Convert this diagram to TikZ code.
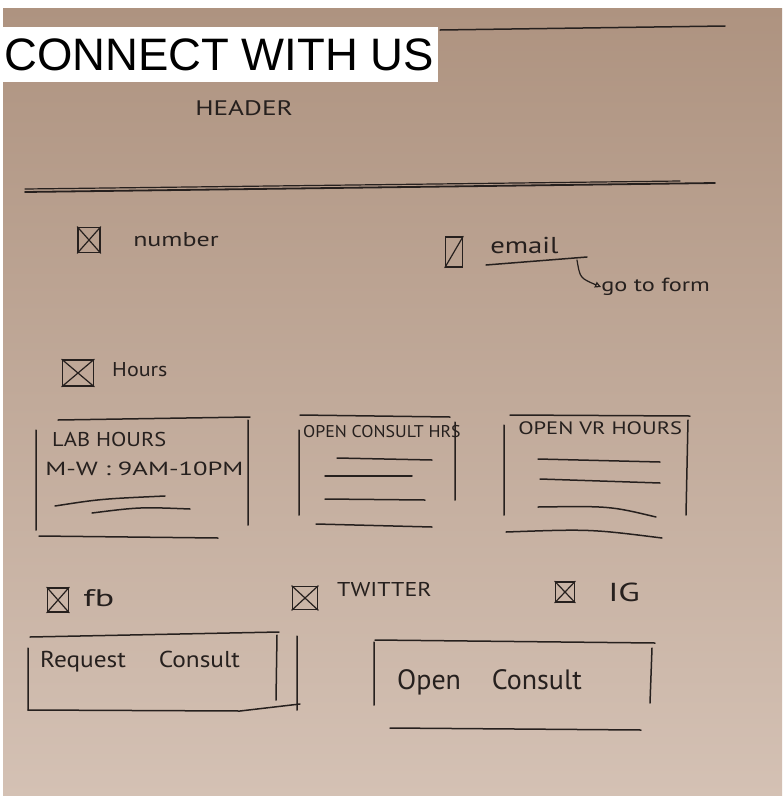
\documentclass[tikz,border=0pt]{standalone}
\usepackage{fontspec}
\setmainfont{Liberation Sans}
\newfontfamily\hand{PT Sans}
\usetikzlibrary{arrows.meta}
\definecolor{pen}{RGB}{38,32,30}
\definecolor{paperA}{RGB}{174,147,128}
\definecolor{paperB}{RGB}{212,193,180}
\begin{document}
\begin{tikzpicture}[x=1pt,y=-1pt,
  pencil/.style={draw=pen, line width=1.5pt, line cap=round},
  thin pencil/.style={draw=pen, line width=1.2pt, line cap=round},
  hw/.style={text=pen, inner sep=0pt, anchor=west, font=\hand\fontsize{#1}{#1}\selectfont},
  hw/.default=18,
  cbox/.style={draw=pen, line width=1.3pt, inner sep=0pt}
]
\useasboundingbox (0,0) rectangle (784,796);
\fill[white] (0,0) rectangle (784,796);
\shade[top color=paperA, bottom color=paperB] (3,8) rectangle (782,796);

% title
\node[fill=white, inner sep=0pt, anchor=north west, minimum width=438pt, minimum height=55pt] (titlebox) at (0,27) {};
\node[anchor=west, inner sep=0pt, font=\fontsize{45.5}{45.5}\selectfont] (title) at (4,55) {CONNECT WITH US};

% header area
\coordinate (tl1) at (440,30); \coordinate (tl2) at (725,26);
\draw[pencil] (tl1) -- (tl2);
\node[hw=21, xscale=1.3] (header) at (195,108) {HEADER};
\coordinate (hl1) at (25,192); \coordinate (hl2) at (715,183);
\draw[pencil, line width=1.8pt] (hl1) -- (hl2);
\draw[thin pencil] (25,189) -- (680,181);

% number
\node[cbox, minimum width=22pt, minimum height=25pt] (cbnum) at (89,240) {};
\draw[thin pencil] (cbnum.north west) -- (cbnum.south east) (cbnum.north east) -- (cbnum.south west);
\node[hw=20, xscale=1.3] (number) at (133,240) {number};

% email
\node[cbox, minimum width=17pt, minimum height=30pt] (cbmail) at (454,252) {};
\draw[thin pencil] (cbmail.south west) -- (cbmail.north east);
\node[hw=23, xscale=1.25] (email) at (490,245) {email};
\coordinate (ul1) at (486,265); \coordinate (ul2) at (587,257);
\draw[pencil] (ul1) -- (ul2);
\coordinate (emailend) at (577,260);
\node[hw=19, xscale=1.28] (goto) at (601,287) {go to form};
\draw[thin pencil, -{Triangle[open, length=6pt, width=6pt]}] (emailend) .. controls (580,278) .. (goto.west);

% hours
\node[cbox, minimum width=31pt, minimum height=26pt] (cbhours) at (78,373) {};
\draw[thin pencil] (cbhours.north west) -- (cbhours.south east) (cbhours.north east) -- (cbhours.south west);
\node[hw=20, xscale=1.1] (hours) at (112,370) {Hours};

% box 1: lab hours
\coordinate (b1a) at (36,430); \coordinate (b1b) at (36,530);
\coordinate (b1c) at (58,420); \coordinate (b1d) at (250,417);
\coordinate (b1e) at (248,420); \coordinate (b1f) at (248,525);
\coordinate (b1g) at (39,536); \coordinate (b1h) at (218,538);
\draw[pencil] (b1a) -- (b1b) (b1c) -- (b1d) (b1e) -- (b1f) (b1g) -- (b1h);
\node[hw=20, xscale=1.12] (lab) at (52,439) {LAB HOURS};
\node[hw=19, xscale=1.4] (mw) at (45,469) {M-W : 9AM-10PM};
\draw[pencil] (55,506) .. controls (100,499) .. (165,496);
\draw[pencil] (92,513) .. controls (140,507) .. (190,509);

% box 2: open consult hrs
\coordinate (b2a) at (299,430); \coordinate (b2b) at (299,515);
\coordinate (b2c) at (300,415); \coordinate (b2d) at (450,417);
\coordinate (b2e) at (455,422); \coordinate (b2f) at (455,500);
\draw[pencil] (b2a) -- (b2b) (b2c) -- (b2d) (b2e) -- (b2f);
\node[hw=17, xscale=1.05] (oc) at (303,432) {OPEN CONSULT HRS};
\draw[pencil] (337,458) -- (432,460);
\draw[pencil] (325,476) -- (412,476);
\draw[pencil] (325,499) -- (425,500);
\draw[pencil] (316,524) -- (432,527);

% box 3: open vr hours
\coordinate (b3a) at (504,425); \coordinate (b3b) at (504,515);
\coordinate (b3c) at (510,415); \coordinate (b3d) at (690,416);
\coordinate (b3e) at (688,420); \coordinate (b3f) at (686,515);
\draw[pencil] (b3a) -- (b3b) (b3c) -- (b3d) (b3e) -- (b3f);
\node[hw=18, xscale=1.25] (vr) at (518,428) {OPEN VR HOURS};
\draw[pencil] (538,459) -- (660,462);
\draw[pencil] (540,479) -- (660,483);
\draw[pencil] (538,507) .. controls (610,506) .. (656,517);
\draw[pencil] (506,532) .. controls (590,529) .. (662,538);

% social row
\node[cbox, minimum width=21pt, minimum height=24pt] (cbfb) at (58,600) {};
\draw[thin pencil] (cbfb.north west) -- (cbfb.south east) (cbfb.north east) -- (cbfb.south west);
\node[hw=24, xscale=1.5] (fb) at (83,598) {fb};
\node[cbox, minimum width=25pt, minimum height=23pt] (cbtw) at (305,598) {};
\draw[thin pencil] (cbtw.north west) -- (cbtw.south east) (cbtw.north east) -- (cbtw.south west);
\node[hw=20, xscale=1.2] (tw) at (337,590) {TWITTER};
\node[cbox, minimum width=19pt, minimum height=20pt] (cbig) at (565,592) {};
\draw[thin pencil] (cbig.north west) -- (cbig.south east) (cbig.north east) -- (cbig.south west);
\node[hw=26, xscale=1.35] (ig) at (608,592) {IG};

% request consult
\coordinate (r1) at (30,637); \coordinate (r2) at (279,632);
\coordinate (r3) at (28,648); \coordinate (r4) at (28,710);
\coordinate (r5) at (277,635); \coordinate (r6) at (276,700);
\coordinate (r7) at (297,636); \coordinate (r8) at (297,710);
\draw[pencil] (r1) -- (r2) (r3) -- (r4) (r5) -- (r6) (r7) -- (r8);
\draw[pencil] (r4) -- (240,711) -- (300,704);
\node[hw=23, xscale=1.1] (req) at (40,662) {Request\hspace{1.3em}Consult};

% open consult
\coordinate (o1) at (375,640); \coordinate (o2) at (655,643);
\coordinate (o3) at (374,642); \coordinate (o4) at (374,705);
\coordinate (o5) at (652,648); \coordinate (o6) at (650,703);
\coordinate (o7) at (390,728); \coordinate (o8) at (641,730);
\draw[pencil] (o1) -- (o2) (o3) -- (o4) (o5) -- (o6) (o7) -- (o8);
\node[hw=28] (open) at (397,682) {Open\hspace{1.1em}Consult};
\end{tikzpicture}
\end{document}
